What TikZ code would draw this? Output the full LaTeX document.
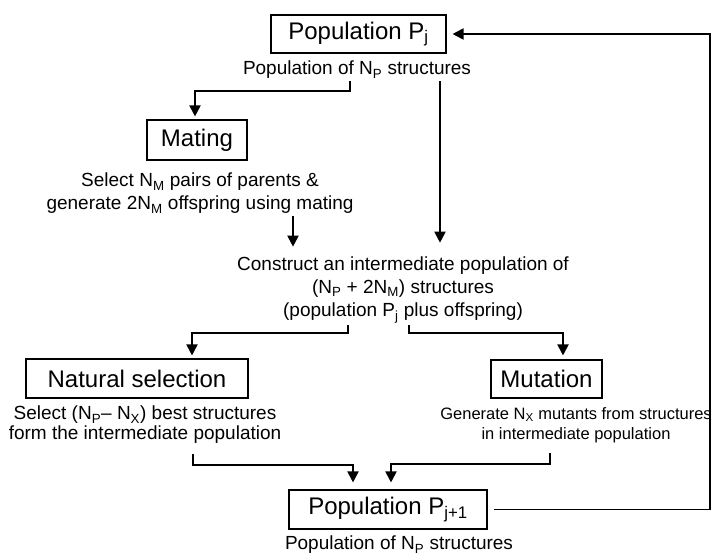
\documentclass[tikz,border=0pt]{standalone}
\usepackage{fontspec}
\setmainfont{Liberation Sans}
\usetikzlibrary{arrows.meta,calc}
\begin{document}
\begin{tikzpicture}[x=1pt,y=-1pt,
  box/.style={draw, line width=1.1pt, inner sep=0pt, font=\fontsize{24}{28}\selectfont},
  lbl/.style={align=center, inner sep=2pt, font=\fontsize{19}{23}\selectfont},
  arr/.style={line width=1.9pt, -{Triangle[length=11pt,width=11pt]}},
]
\useasboundingbox (0,0) rectangle (712,556);

\node[box, minimum width=175pt, minimum height=38pt] (pj) at (358.5,34) {Population P\textsubscript{j}};
\node[lbl] (t1) at (357,70) {Population of N\textsubscript{P} structures};
\node[box, minimum width=100pt, minimum height=40pt] (mat) at (197,140) {Mating};
\node[lbl] (md) at (200,193.5) {Select N\textsubscript{M} pairs of parents \&\\generate 2N\textsubscript{M} offspring using mating};
\node[lbl] (cons) at (403,290) {Construct an intermediate population of\\(N\textsubscript{P} + 2N\textsubscript{M}) structures\\(population P\textsubscript{j} plus offspring)};
\node[box, minimum width=222pt, minimum height=39pt] (ns) at (137,378.5) {Natural selection};
\node[box, minimum width=111pt, minimum height=38pt] (mut) at (546.5,379) {Mutation};
\node[lbl, font=\fontsize{19}{20}\selectfont] (sel) at (145,425) {Select (N\textsubscript{P}– N\textsubscript{X}) best structures\\form the intermediate population};
\node[lbl, font=\fontsize{16.5}{20}\selectfont] (gen) at (576,425) {Generate N\textsubscript{X} mutants from structures\\in intermediate population};
\node[box, minimum width=198pt, minimum height=39pt] (pj1) at (388,509.5) {Population P\textsubscript{j+1}};
\node[lbl] (t2) at (399,545) {Population of N\textsubscript{P} structures};

\draw[arr, shorten >=3pt] ([xshift=-7pt]t1.south) -- ++(0,10) -| ([xshift=-2pt]mat.north);
\draw[arr, shorten >=12pt] ([xshift=83pt]t1.south) coordinate (p2) -- (p2 |- cons.north);
\draw[arr, shorten >=8pt] ([xshift=93pt]md.south) coordinate (p3) -- (p3 |- cons.north);
\draw[arr, shorten >=3pt] ([xshift=-55pt]cons.south) -- ++(0,8) -| ([xshift=55pt]ns.north);
\draw[arr, shorten >=4pt] ([xshift=6pt]cons.south) -- ++(0,8) -| ([xshift=16.5pt]mut.north);
\draw[arr, shorten <=8pt, shorten >=7pt] ([xshift=48pt]sel.south) -- ++(0,19) -| ([xshift=-35pt]pj1.north);
\draw[arr, shorten <=8pt, shorten >=7pt] ([xshift=-26pt]gen.south) -- ++(0,19) -| ([xshift=3pt]pj1.north);
\coordinate (fb) at (710,300);
\draw[arr, shorten <=6pt, shorten >=6pt] (pj1.east) -| (fb) |- (pj.east);
\end{tikzpicture}
\end{document}
